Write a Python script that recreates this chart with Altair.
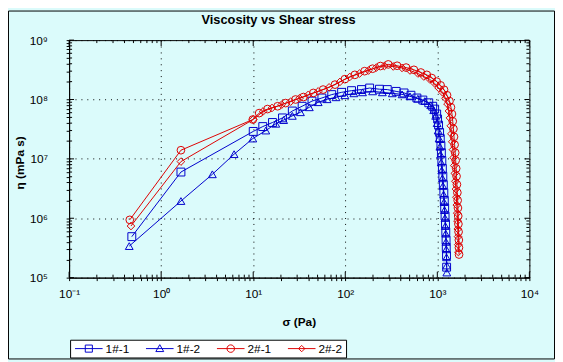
import json
import altair as alt
import pandas as pd

FONT = "Liberation Sans"

series_names = ["1#-1", "1#-2", "2#-1", "2#-2"]
series_colors = ["#0000CC", "#0000CC", "#DD0000", "#DD0000"]
point_shapes = ["square", "triangle-up", "circle", "diamond"]
point_sizes = [64, 60, 64, 36]

s11_x = [0.48, 1.64, 10.0, 12.7, 16.2, 20.8, 26.6, 34, 43.5, 55.7, 71.3, 91.2, 117, 150, 184, 235, 286,
         357, 435, 517, 600, 696, 807, 891, 936, 984, 1007, 1032, 1059, 1077, 1094, 1107, 1120, 1135,
         1148, 1162, 1177, 1191, 1202, 1214, 1227, 1236, 1245, 1251, 1259, 1262]
s11_y = [4.9e5, 6.0e6, 2.9e7, 3.5e7, 4.1e7, 4.9e7, 6.4e7, 7.7e7, 9.4e7, 1.06e8, 1.21e8, 1.32e8, 1.41e8,
         1.47e8, 1.56e8, 1.49e8, 1.47e8, 1.37e8, 1.29e8, 1.18e8, 1.06e8, 9.8e7, 8.8e7, 7.7e7, 6.9e7,
         5.7e7, 4.7e7, 3.7e7, 2.8e7, 2.2e7, 1.67e7, 1.27e7, 9.4e6, 6.9e6, 5.1e6, 3.7e6, 2.7e6, 2.0e6,
         1.49e6, 1.09e6, 8.0e5, 5.9e5, 4.3e5, 3.2e5, 2.35e5, 1.5e5]

s12_x = [0.45, 1.64, 3.6, 6.2, 9.9, 13.7, 17.6, 21.4, 26.6, 32.6, 40.7, 50.8, 63.5, 79.3, 99, 124, 154,
         198, 253, 324, 414, 505, 615, 731, 848, 914, 960, 995, 1020, 1045, 1066, 1084, 1101, 1117,
         1135, 1151, 1169, 1183, 1197, 1211, 1222, 1233, 1242, 1251, 1259, 1265, 1268]
s12_y = [3.4e5, 1.95e6, 5.5e6, 1.2e7, 2.2e7, 3.0e7, 3.9e7, 4.5e7, 5.3e7, 6.1e7, 7.4e7, 9.0e7, 1.01e8,
         1.09e8, 1.18e8, 1.27e8, 1.32e8, 1.37e8, 1.32e8, 1.27e8, 1.22e8, 1.13e8, 1.03e8, 9.4e7, 8.0e7,
         6.6e7, 5.3e7, 4.0e7, 3.0e7, 2.2e7, 1.6e7, 1.18e7, 8.7e6, 6.4e6, 4.7e6, 3.5e6, 2.5e6, 1.87e6,
         1.37e6, 1.01e6, 7.4e5, 5.5e5, 4.0e5, 3.0e5, 2.2e5, 1.6e5, 1.22e5]

s21_x = [0.456, 1.64, 9.9, 11.6, 14.3, 18.4, 22.5, 28.8, 35.1, 45.0, 57.5, 77.3, 99, 127, 162, 198, 241,
         293, 366, 458, 557, 662, 769, 869, 984, 1086, 1183, 1275, 1355, 1406, 1442, 1470, 1496, 1518,
         1541, 1564, 1582, 1603, 1618, 1633, 1651, 1663, 1675, 1687, 1694, 1702, 1714, 1718, 1722]
s21_y = [9.4e5, 1.4e7, 4.6e7, 5.9e7, 6.9e7, 7.7e7, 8.7e7, 1.0e8, 1.10e8, 1.29e8, 1.47e8, 1.78e8, 2.2e8,
         2.6e8, 3.0e8, 3.3e8, 3.66e8, 3.9e8, 3.7e8, 3.45e8, 3.16e8, 2.85e8, 2.6e8, 2.3e8, 2.0e8, 1.73e8,
         1.46e8, 1.18e8, 9.4e7, 7.4e7, 5.7e7, 4.3e7, 3.2e7, 2.35e7, 1.73e7, 1.27e7, 9.4e6, 6.9e6, 5.1e6,
         3.7e6, 2.7e6, 2.0e6, 1.49e6, 1.09e6, 8.0e5, 5.9e5, 4.3e5, 3.2e5, 2.45e5]

s22_x = [0.47, 1.64, 10.0, 12.8, 16.0, 20.4, 25.5, 31.8, 39.7, 50.8, 66.7, 87.5, 112, 143, 179, 218, 266,
         332, 414, 505, 615, 713, 828, 936, 1032, 1140, 1227, 1290, 1337, 1371, 1400, 1422, 1452, 1479,
         1503, 1528, 1549, 1571, 1592, 1611, 1626, 1644, 1656, 1667, 1679, 1687, 1694]
s22_y = [7.4e5, 9.0e6, 4.6e7, 6.3e7, 7.2e7, 8.2e7, 9.2e7, 1.05e8, 1.2e8, 1.37e8, 1.6e8, 1.98e8, 2.4e8,
         2.74e8, 3.08e8, 3.45e8, 3.66e8, 3.6e8, 3.4e8, 3.08e8, 2.74e8, 2.44e8, 2.18e8, 1.87e8, 1.57e8,
         1.32e8, 1.05e8, 8.4e7, 6.4e7, 4.9e7, 3.6e7, 2.64e7, 1.94e7, 1.43e7, 1.05e7, 7.7e6, 5.7e6, 4.2e6,
         3.1e6, 2.26e6, 1.67e6, 1.22e6, 9.0e5, 6.6e5, 4.9e5, 3.6e5, 2.7e5]

x_major = [0.1, 1, 10, 100, 1000, 10000]
y_major = [1e5, 1e6, 1e7, 1e8, 1e9]
x_labels = ["10⁻¹", "10⁰", "10¹", "10²", "10³", "10⁴"]
y_labels = ["10⁵", "10⁶", "10⁷", "10⁸", "10⁹"]
minor_steps = [2, 3, 4, 5, 6, 7, 8, 9]

x_minor = [k * m for m in x_major[:-1] for k in minor_steps]
y_minor = [k * m for m in y_major[:-1] for k in minor_steps]

legend_paths = [
    "M-3.5,0H3.5M-0.9,-0.9H0.9V0.9H-0.9Z",
    "M-3.5,0H3.5M0,-1L1,0.75H-1Z",
    "M-3.5,0H3.5M-0.95,0A0.95,0.95,0,1,1,0.95,0A0.95,0.95,0,1,1,-0.95,0Z",
    "M-3.5,0H3.5M0,-0.8L0.8,0L0,0.8L-0.8,0Z",
]

# ---------- data table ----------
frames = []
for name, xs, ys in zip(series_names, [s11_x, s12_x, s21_x, s22_x], [s11_y, s12_y, s21_y, s22_y]):
    d = pd.DataFrame({"x": xs, "y": ys})
    d["series"] = name
    d["idx"] = range(len(d))
    frames.append(d)
df = pd.concat(frames, ignore_index=True)

W, H = 467, 241

major_test = "abs(log(datum.value)/LN10 - round(log(datum.value)/LN10)) < 0.001"
exp_expr = "round(log(datum.value)/LN10)"

xscale = alt.Scale(type="log", domain=[0.1, 10000], nice=False)
yscale = alt.Scale(type="log", domain=[1e5, 1e9], nice=False)

common_axis = dict(
    grid=True, gridColor="black", gridDash=[1, 5], gridWidth=1,
    gridOpacity={"condition": {"test": major_test, "value": 1}, "value": 0},
    tickColor="black", tickSize=3, tickWidth=1, domainColor="black", domainWidth=1,
    labelColor="black", labelFont=FONT, labelFontSize=12, labelOverlap=False, labelFlush=False,
    labelBound=False, titleFont=FONT, titleFontSize=12, titleFontWeight="bold", titleColor="black",
)

xaxis = alt.Axis(
    values=x_major + x_minor, title="σ (Pa)",
    labelExpr=f"({major_test}) ? {json.dumps(x_labels, ensure_ascii=False)}[{exp_expr}+1] : ''",
    labelPadding=8, labelBaseline="top",
    titleX=233, titleY=45, titleAlign="center", titleBaseline="middle",
    **common_axis,
)
yaxis = alt.Axis(
    values=y_major + y_minor, title="η (mPa s)",
    labelExpr=f"({major_test}) ? {json.dumps(y_labels, ensure_ascii=False)}[{exp_expr}-5] : ''",
    labelPadding=19, labelAlign="right", labelBaseline="middle",
    titleX=-50, titleY=124, titleAngle=270, titleAlign="center", titleBaseline="middle",
    **common_axis,
)

color_scale = alt.Scale(domain=series_names, range=series_colors)

lines = alt.Chart(df).mark_line(strokeWidth=1).encode(
    x=alt.X("x:Q", scale=xscale, axis=xaxis),
    y=alt.Y("y:Q", scale=yscale, axis=yaxis),
    color=alt.Color("series:N", scale=color_scale, legend=None),
    detail="series:N",
    order="idx:Q",
)

points = alt.Chart(df).mark_point(filled=False, strokeWidth=1, opacity=1).encode(
    x=alt.X("x:Q", scale=xscale, axis=xaxis),
    y=alt.Y("y:Q", scale=yscale, axis=yaxis),
    color=alt.Color("series:N", scale=color_scale, legend=None),
    shape=alt.Shape("series:N", scale=alt.Scale(domain=series_names, range=point_shapes), legend=None),
    size=alt.Size("series:N", scale=alt.Scale(domain=series_names, range=point_sizes), legend=None),
)

# inner tick marks on all four sides
xmaj_df = pd.DataFrame({"v": x_major})
xmin_df = pd.DataFrame({"v": x_minor})
ymaj_df = pd.DataFrame({"v": y_major})
ymin_df = pd.DataFrame({"v": y_minor})


def xticks(d, L):
    enc_x = alt.X("v:Q", scale=xscale, axis=xaxis)
    b = alt.Chart(d).mark_rule(color="black", strokeWidth=1).encode(x=enc_x, y=alt.value(H), y2=alt.value(H - L))
    t = alt.Chart(d).mark_rule(color="black", strokeWidth=1).encode(x=enc_x, y=alt.value(0), y2=alt.value(L))
    return [b, t]


def yticks(d, L):
    enc_y = alt.Y("v:Q", scale=yscale, axis=yaxis)
    l = alt.Chart(d).mark_rule(color="black", strokeWidth=1).encode(y=enc_y, x=alt.value(0), x2=alt.value(L))
    r = alt.Chart(d).mark_rule(color="black", strokeWidth=1).encode(y=enc_y, x=alt.value(W), x2=alt.value(W - L))
    return [l, r]


tick_layers = xticks(xmaj_df, 6) + xticks(xmin_df, 3) + yticks(ymaj_df, 5) + yticks(ymin_df, 3)

leg_legend = alt.Legend(
    orient="none", legendX=1, legendY=304, direction="horizontal", columns=4, title=None,
    strokeColor="black", fillColor="white", padding=3, cornerRadius=0,
    labelFont=FONT, labelFontSize=12, labelColor="black", labelOffset=11, columnPadding=14,
    symbolSize=64, symbolOffset=10, symbolStrokeWidth=1, symbolFillColor="transparent",
)
legend_layer = alt.Chart(pd.DataFrame({"series": series_names})).transform_filter("false").mark_point(
    filled=False, strokeWidth=1, opacity=1
).encode(
    color=alt.Color("series:N", scale=alt.Scale(domain=series_names, range=series_colors), legend=leg_legend),
    shape=alt.Shape("series:N", scale=alt.Scale(domain=series_names, range=legend_paths), legend=leg_legend),
)

frame = alt.Chart(pd.DataFrame({"a": [0]})).mark_rect(
    fill="white", fillOpacity=0, stroke="black", strokeWidth=1
).encode(x=alt.value(-61.5), x2=alt.value(492.5), y=alt.value(-29.5), y2=alt.value(323.5))

chart = alt.layer(lines, points, *tick_layers, legend_layer, frame).resolve_scale(
    color="independent", shape="independent", size="independent"
).properties(
    width=W, height=H,
    autosize=alt.AutoSizeParams(type="none"),
    padding={"left": 62, "top": 30, "right": 26, "bottom": 83},
    title=alt.TitleParams(
        "Viscosity vs Shear stress", font=FONT, fontSize=13, fontWeight="bold", color="black",
        anchor="middle", frame="group", dx=-21, offset=-27, baseline="alphabetic",
    ),
).configure(background="#DBFBFB").configure_view(fill="white", stroke="black", strokeWidth=1)

chart.save("out.html", embed_options={"renderer": "svg", "actions": False})
